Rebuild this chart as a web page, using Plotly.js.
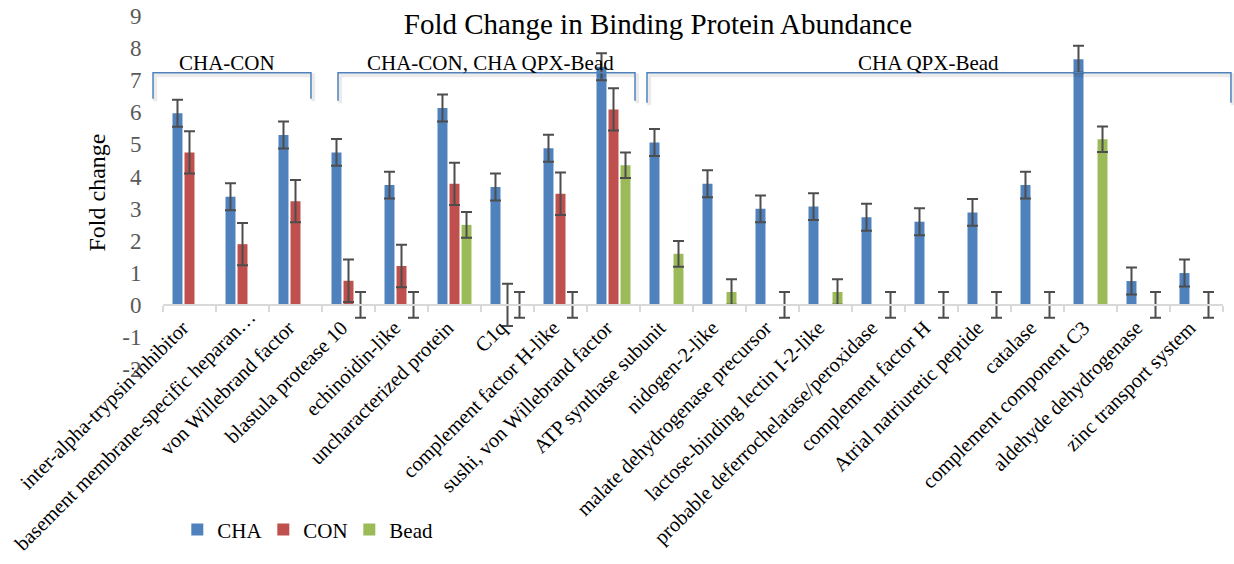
<!DOCTYPE html>
<html>
<head>
<meta charset="utf-8">
<script src="https://cdn.plot.ly/plotly-3.0.1.min.js"></script>
<style>
  html, body { margin: 0; padding: 0; background: #ffffff; }
  #chart { width: 1234px; height: 564px; }
</style>
</head>
<body>
<div id="chart"></div>
<script>
// Proteins on the category axis
const proteins = [
  "inter-alpha-trypsin inhibitor",
  "basement membrane-specific heparan…",
  "von Willebrand factor",
  "blastula protease 10",
  "echinoidin-like",
  "uncharacterized protein",
  "C1q",
  "complement factor H-like",
  "sushi, von Willebrand factor",
  "ATP synthase subunit",
  "nidogen-2-like",
  "malate dehydrogenase precursor",
  "lactose-binding lectin I-2-like",
  "probable deferrochelatase/peroxidase",
  "complement factor H",
  "Atrial natriuretic peptide",
  "catalase",
  "complement component C3",
  "aldehyde dehydrogenase",
  "zinc transport system"
];

// Fold change per protein (null = not measured in that comparison)
const chaValues  = [5.97, 3.37, 5.29, 4.75, 3.73, 6.13, 3.67, 4.88, 7.42, 5.06,
                    3.77, 2.99, 3.06, 2.73, 2.59, 2.88, 3.73, 7.65, 0.74, 0.99];
const conValues  = [4.75, 1.89, 3.23, 0.75, 1.21, 3.77, 0, 3.46, 6.09, null,
                    null, null, null, null, null, null, null, null, null, null];
const beadValues = [null, null, null, 0, 0, 2.49, 0, 0, 4.35, 1.59,
                    0.40, 0, 0.40, 0, 0, 0, 0, 5.16, 0, 0];

// Error bar half-lengths
const chaErrors  = [0.42, 0.42, 0.42, 0.42, 0.42, 0.42, 0.42, 0.42, 0.42, 0.42,
                    0.42, 0.42, 0.42, 0.42, 0.42, 0.42, 0.42, 0.42, 0.42, 0.42];
const conErrors  = [0.66, 0.66, 0.66, 0.66, 0.66, 0.66, 0.66, 0.66, 0.66, null,
                    null, null, null, null, null, null, null, null, null, null];
const beadErrors = [null, null, null, 0.40, 0.40, 0.40, 0.40, 0.40, 0.40, 0.40,
                    0.40, 0.40, 0.40, 0.40, 0.40, 0.40, 0.40, 0.40, 0.40, 0.40];

// Value axis ticks (plain hyphen for negatives)
const yTickValues = [-2, -1, 0, 1, 2, 3, 4, 5, 6, 7, 8, 9];
const yTickLabels = ["-2", "-1", "0", "1", "2", "3", "4", "5", "6", "7", "8", "9"];

// Comparison groups shown as brackets above the bars
const groupLabels = ["CHA-CON", "CHA-CON, CHA QPX-Bead", "CHA QPX-Bead"];

const SERIF = '"Liberation Serif", "Times New Roman", Times, serif';
const errStyle = { color: "#4d4d4d", thickness: 2, width: 5.5 };

function series(name, y, err, color) {
  return {
    type: "bar",
    name: name,
    x: proteins,
    y: y,
    marker: { color: color },
    error_y: Object.assign({ type: "data", array: err, visible: true }, errStyle),
    hoverinfo: "x+y+name"
  };
}

const traces = [
  series("CHA", chaValues, chaErrors, "#4f81bd"),
  series("CON", conValues, conErrors, "#c0504d"),
  series("Bead", beadValues, beadErrors, "#9bbb59")
];

// Bracket geometry: [left, right] in paper x, top and foot in data y
const brackets = [
  { x0: -0.0094, x1: 0.1396, top: 7.23, foot: 6.42, label: groupLabels[0], lx: 0.0604 },
  { x0: 0.1651,  x1: 0.4453, top: 7.23, foot: 6.36, label: groupLabels[1], lx: 0.3094 },
  { x0: 0.4566,  x1: 1.0075, top: 7.23, foot: 6.30, label: groupLabels[2], lx: 0.7226 }
];

const shapes = [];
const annotations = [];
brackets.forEach(b => {
  const path = `M ${b.x0} ${b.foot} L ${b.x0} ${b.top} L ${b.x1} ${b.top} L ${b.x1} ${b.foot}`;
  const shadow = `M ${b.x0 + 0.002} ${b.foot - 0.08} L ${b.x0 + 0.002} ${b.top - 0.08} L ${b.x1 + 0.002} ${b.top - 0.08} L ${b.x1 + 0.002} ${b.foot - 0.08}`;
  shapes.push({ type: "path", xref: "paper", yref: "y", path: shadow,
                line: { color: "rgba(0,0,0,0.08)", width: 4 }, layer: "above" });
  shapes.push({ type: "path", xref: "paper", yref: "y", path: path,
                line: { color: "#4f81bd", width: 1.5 }, layer: "above" });
  annotations.push({ xref: "paper", yref: "y", x: b.lx, y: 7.54, text: b.label,
                     showarrow: false, xanchor: "center", yanchor: "middle",
                     font: { family: SERIF, size: 21, color: "#000000" } });
});

const layout = {
  width: 1234,
  height: 564,
  margin: { l: 163, r: 11, t: 16, b: 195 },
  paper_bgcolor: "#ffffff",
  plot_bgcolor: "#ffffff",
  font: { family: SERIF, color: "#000000" },
  title: {
    text: "Fold Change in Binding Protein Abundance",
    font: { family: SERIF, size: 29, color: "#000000" },
    xref: "container", x: 0.5332, xanchor: "center",
    yref: "container", y: 0.957, yanchor: "middle"
  },
  barmode: "group",
  bargap: 0.32,
  bargroupgap: 0.17,
  xaxis: {
    type: "category",
    anchor: "free",
    position: 2 / 11,
    showline: true,
    linecolor: "#d9d9d9",
    linewidth: 2,
    ticks: "outside",
    tickson: "boundaries",
    ticklen: 6,
    tickwidth: 1.5,
    tickcolor: "#d9d9d9",
    tickangle: -45,
    ticklabelshift: -7,
    ticklabelstandoff: 2,
    tickfont: { family: SERIF, size: 20.5, color: "#000000" },
    showgrid: false,
    zeroline: false
  },
  yaxis: {
    range: [-2, 9],
    tickmode: "array",
    tickvals: yTickValues,
    ticktext: yTickLabels,
    showgrid: false,
    zeroline: false,
    showline: false,
    ticks: "outside",
    ticklen: 16,
    tickcolor: "rgba(0,0,0,0)",
    tickfont: { family: SERIF, size: 23, color: "#595959" },
    title: { text: "Fold change", font: { family: SERIF, size: 24, color: "#000000" } }
  },
  legend: {
    orientation: "h",
    x: 0.0135, xanchor: "left",
    y: -0.456, yanchor: "middle",
    itemwidth: 30,
    entrywidth: 41,
    entrywidthmode: "pixels",
    font: { family: SERIF, size: 21, color: "#000000" },
    bgcolor: "rgba(0,0,0,0)"
  },
  shapes: shapes,
  annotations: annotations,
  showlegend: true
};

// The long second label is slid along its own slant so it stays inside the page
function nudgeLongLabel(gd) {
  gd.querySelectorAll(".xaxislayer-above .xtick").forEach(g => {
    if (g.textContent === proteins[1]) {
      const old = g.getAttribute("transform") || "";
      g.setAttribute("transform", old + " translate(14,-11)");
    }
  });
}

Plotly.newPlot("chart", traces, layout, { displayModeBar: false, staticPlot: true })
  .then(nudgeLongLabel);
</script>
</body>
</html>
